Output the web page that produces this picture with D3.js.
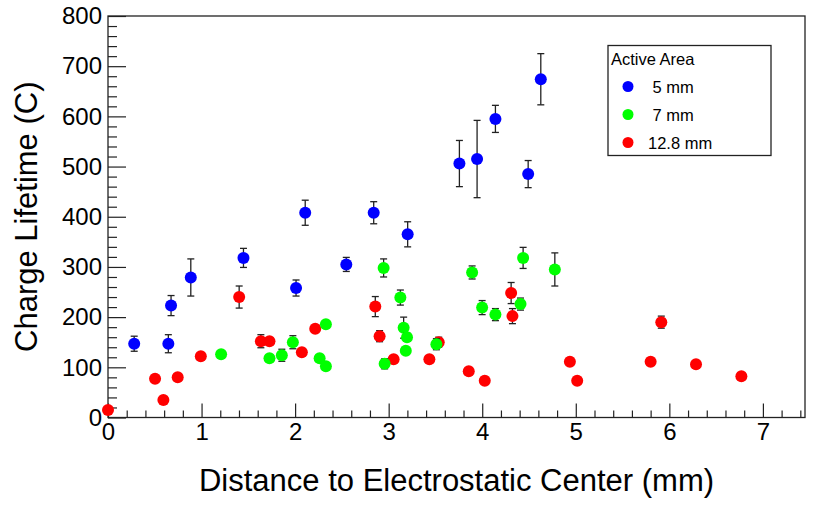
<!DOCTYPE html>
<html>
<head>
<meta charset="utf-8">
<script src="https://cdn.jsdelivr.net/npm/d3@7"></script>
<style>
  body { margin: 0; background: #fff; }
  svg { font-family: "Liberation Sans", Arial, Helvetica, sans-serif; }
  .axis path { display: none; }
  .axis line { stroke: #222; stroke-width: 1.2; }
  .axis text { font-size: 24px; fill: #000; }
  .err { stroke: #222; stroke-width: 1.3; }
</style>
</head>
<body>
<div id="chart"></div>
<script>
// Distance to electrostatic center (mm), charge lifetime (C) and its error, per active area
const blueX   = [0.28, 0.645, 0.674, 0.885, 1.448, 2.01, 2.108, 2.547, 2.84, 3.203, 3.756, 3.945, 4.141, 4.491, 4.626];
const blueY   = [147, 147, 223, 279, 318, 258, 408, 305, 408, 365, 506, 515, 595, 485, 674];
const blueErr = [15, 18, 20, 37, 19, 16, 25, 14, 22, 25, 46, 77, 27, 27, 51];

const greenX   = [1.209, 1.726, 1.858, 1.976, 2.262, 2.329, 2.329, 2.946, 2.957, 3.125, 3.16, 3.196, 3.183, 3.51, 3.892, 3.999, 4.141, 4.409, 4.437, 4.776];
const greenY   = [126, 118, 124, 150, 118, 186, 102, 298, 107, 239, 179, 160, 133, 146, 289, 219, 205, 226, 318, 295];
const greenErr = [4, 4, 12, 13, 4, 4, 4, 18, 10, 15, 21, 8, 6, 11, 13, 14, 12, 12, 21, 33];

const redX   = [0.0, 0.503, 0.592, 0.745, 0.992, 1.402, 1.634, 1.726, 2.072, 2.215, 2.857, 2.903, 3.053, 3.435, 3.535, 3.856, 4.027, 4.309, 4.323, 4.937, 5.015, 5.8, 5.914, 6.285, 6.77];
const redY   = [15, 77, 35, 80, 122, 240, 152, 152, 130, 177, 221, 162, 116, 116, 150, 92, 73, 248, 202, 111, 73, 111, 190, 106, 82];
const redErr = [4, 4, 4, 4, 4, 22, 13, 4, 4, 4, 20, 11, 4, 4, 10, 4, 4, 21, 15, 4, 4, 4, 12, 4, 4];

const seriesNames  = [' 5 mm', ' 7 mm', '12.8 mm'];
const seriesColors = ['#0000ff', '#00ff00', '#ff0000'];
const xTicks = [0, 1, 2, 3, 4, 5, 6, 7];
const yTicks = [0, 100, 200, 300, 400, 500, 600, 700, 800];

class LifetimeScatter {

  constructor(_config) {
    this.config = {
      parentElement: _config.parentElement,
      containerWidth: 817,
      containerHeight: 505,
      margin: {top: 16, right: 12, bottom: 87.5, left: 108}
    };
    this.initVis();
  }

  initVis() {
    let vis = this;
    const m = vis.config.margin;
    vis.width = vis.config.containerWidth - m.left - m.right;
    vis.height = vis.config.containerHeight - m.top - m.bottom;

    vis.svg = d3.select(vis.config.parentElement).append('svg')
        .attr('width', vis.config.containerWidth)
        .attr('height', vis.config.containerHeight);

    vis.chart = vis.svg.append('g')
        .attr('transform', `translate(${m.left},${m.top})`);

    vis.xScale = d3.scaleLinear().domain([0, 7.45]).range([0, vis.width]);
    vis.yScale = d3.scaleLinear().domain([0, 800]).range([vis.height, 0]);

    // series drawn red first, then green, then blue on top
    vis.series = [
      {name: seriesNames[2], color: seriesColors[2], xs: redX, ys: redY, es: redErr},
      {name: seriesNames[1], color: seriesColors[1], xs: greenX, ys: greenY, es: greenErr},
      {name: seriesNames[0], color: seriesColors[0], xs: blueX, ys: blueY, es: blueErr}
    ].map(s => ({...s, points: s.xs.map((x, i) => ({x: x, y: s.ys[i], e: s.es[i]}))}));

    vis.renderVis();
  }

  renderVis() {
    let vis = this;

    // minor ticks
    vis.chart.append('g').attr('class', 'axis')
        .attr('transform', `translate(0,${vis.height})`)
        .call(d3.axisBottom(vis.xScale)
          .tickValues(d3.range(0, 7.45, 0.2).filter(v => Math.abs(v - Math.round(v)) > 1e-6))
          .tickSizeInner(-7).tickSizeOuter(0).tickFormat(''));
    vis.chart.append('g').attr('class', 'axis')
        .call(d3.axisLeft(vis.yScale)
          .tickValues(d3.range(0, 801, 20).filter(v => v % 100 != 0))
          .tickSizeInner(-9).tickSizeOuter(0).tickFormat(''));

    // major ticks with labels
    vis.chart.append('g').attr('class', 'axis')
        .attr('transform', `translate(0,${vis.height})`)
        .call(d3.axisBottom(vis.xScale).tickValues(xTicks)
          .tickSizeInner(-14).tickSizeOuter(0).tickPadding(5).tickFormat(d3.format('d')));
    vis.chart.append('g').attr('class', 'axis')
        .call(d3.axisLeft(vis.yScale).tickValues(yTicks)
          .tickSizeInner(-18).tickSizeOuter(0).tickPadding(6).tickFormat(d3.format('d')));

    // frame
    vis.chart.append('rect')
        .attr('width', vis.width)
        .attr('height', vis.height)
        .attr('fill', 'none')
        .attr('stroke', '#222')
        .attr('stroke-width', 1.3);

    // points with error bars
    const group = vis.chart.selectAll('.series')
        .data(vis.series)
      .join('g')
        .attr('class', 'series');

    const pt = group.selectAll('.pt')
        .data(d => d.points.map(p => ({...p, color: d.color})))
      .join('g')
        .attr('class', 'pt')
        .attr('transform', d => `translate(${vis.xScale(d.x)},${vis.yScale(d.y)})`);

    pt.append('line')
        .attr('class', 'err')
        .attr('y1', d => vis.yScale(d.y + d.e) - vis.yScale(d.y))
        .attr('y2', d => vis.yScale(d.y - d.e) - vis.yScale(d.y));
    pt.append('line')
        .attr('class', 'err')
        .attr('x1', -3.5).attr('x2', 3.5)
        .attr('y1', d => vis.yScale(d.y + d.e) - vis.yScale(d.y))
        .attr('y2', d => vis.yScale(d.y + d.e) - vis.yScale(d.y));
    pt.append('line')
        .attr('class', 'err')
        .attr('x1', -3.5).attr('x2', 3.5)
        .attr('y1', d => vis.yScale(d.y - d.e) - vis.yScale(d.y))
        .attr('y2', d => vis.yScale(d.y - d.e) - vis.yScale(d.y));
    pt.append('circle')
        .attr('r', 6)
        .attr('fill', d => d.color);

    // axis titles
    vis.svg.append('text')
        .attr('x', vis.config.margin.left + vis.width / 2)
        .attr('y', 491)
        .attr('text-anchor', 'middle')
        .style('font-size', '31px')
        .text('Distance to Electrostatic Center (mm)');

    vis.svg.append('text')
        .attr('transform', `translate(37,${vis.config.margin.top + vis.height / 2}) rotate(-90)`)
        .attr('text-anchor', 'middle')
        .style('font-size', '31px')
        .text('Charge Lifetime (C)');

    // legend
    const legend = vis.svg.append('g').attr('transform', 'translate(608,45.5)');
    legend.append('rect')
        .attr('width', 163)
        .attr('height', 110)
        .attr('fill', '#fff')
        .attr('stroke', '#222')
        .attr('stroke-width', 1.3);
    legend.append('text')
        .attr('x', 3)
        .attr('y', 19.5)
        .style('font-size', '16.5px')
        .text('Active Area');

    const entries = legend.selectAll('.entry')
        .data(vis.series.slice().reverse())
      .join('g')
        .attr('class', 'entry')
        .attr('transform', (d, i) => `translate(0,${41 + i * 28})`);
    entries.append('circle')
        .attr('cx', 20)
        .attr('r', 5.5)
        .attr('fill', d => d.color);
    entries.append('text')
        .attr('x', 40)
        .attr('y', 6)
        .style('font-size', '16.5px')
        .style('white-space', 'pre')
        .text(d => d.name);
  }
}

new LifetimeScatter({parentElement: '#chart'});
</script>
</body>
</html>
